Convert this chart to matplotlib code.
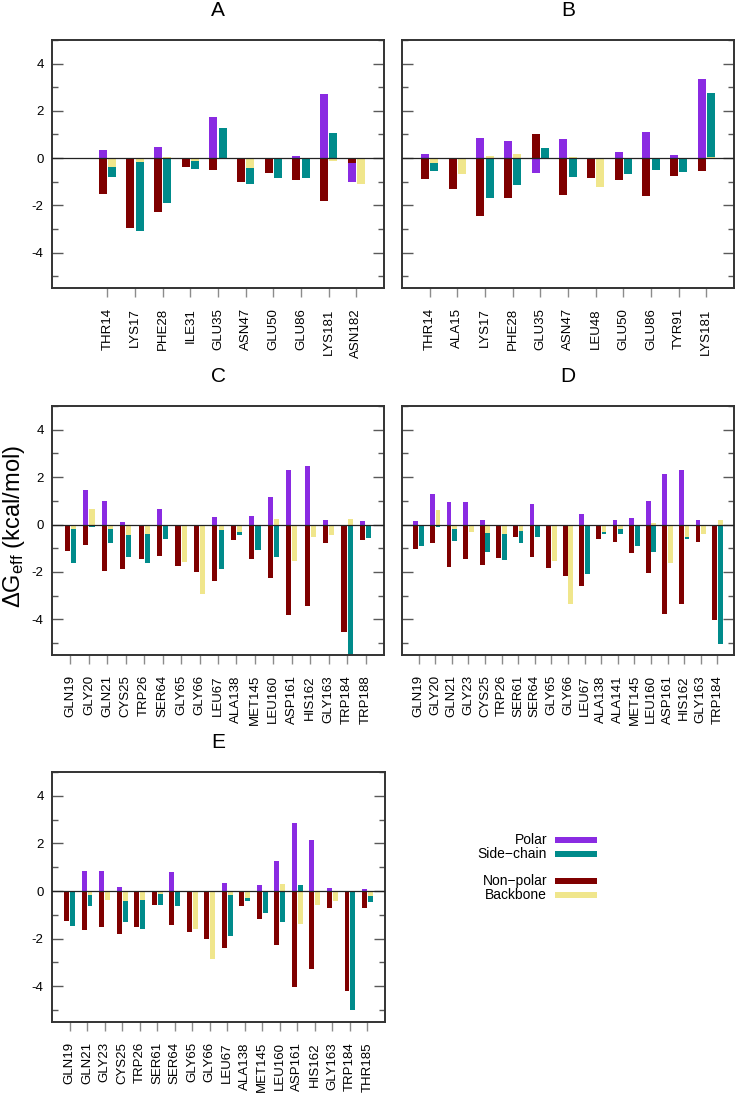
import numpy as np
import matplotlib
matplotlib.use("Agg")
import matplotlib.pyplot as plt
from matplotlib.patches import Rectangle
from matplotlib.ticker import MultipleLocator

plt.rcParams['font.family'] = ['Liberation Sans', 'DejaVu Sans']
plt.rcParams['axes.unicode_minus'] = False
plt.rcParams['mathtext.fontset'] = 'custom'
plt.rcParams['mathtext.rm'] = 'Liberation Sans'
plt.rcParams['mathtext.it'] = 'Liberation Sans:italic'

# ---------------- data ----------------
a_labels = ["THR14", "LYS17", "PHE28", "ILE31", "GLU35", "ASN47", "GLU50", "GLU86", "LYS181", "ASN182"]
a_polar = [0.36, -0.28, 0.45, -0.17, 1.75, -0.48, -0.20, 0.08, 2.72, -1.01]
a_nonpolar = [-1.54, -2.96, -2.30, -0.39, -0.51, -1.02, -0.62, -0.93, -1.80, -0.21]
a_sidechain = [-0.81, -3.07, -1.91, -0.45, 1.26, -1.08, -0.83, -0.86, 1.07, -0.11]
a_backbone = [-0.36, -0.17, 0.05, -0.11, 0.00, -0.42, -0.01, 0.00, -0.14, -1.11]

b_labels = ["THR14", "ALA15", "LYS17", "PHE28", "GLU35", "ASN47", "LEU48", "GLU50", "GLU86", "TYR91", "LYS181"]
b_polar = [0.17, 0.00, 0.83, 0.74, -0.63, 0.79, -0.38, 0.27, 1.12, 0.15, 3.33]
b_nonpolar = [-0.90, -1.31, -2.46, -1.70, 1.01, -1.56, -0.84, -0.93, -1.61, -0.74, -0.55]
b_sidechain = [-0.55, -0.62, -1.68, -1.12, 0.41, -0.79, 0.00, -0.66, -0.49, -0.60, 2.75]
b_backbone = [-0.20, -0.66, 0.07, 0.17, 0.00, 0.04, -1.22, 0.00, 0.00, 0.00, 0.05]

c_labels = ["GLN19", "GLY20", "GLN21", "CYS25", "TRP26", "SER64", "GLY65", "GLY66", "LEU67",
            "ALA138", "MET145", "LEU160", "ASP161", "HIS162", "GLY163", "TRP184", "TRP188"]
c_polar = [-0.72, 1.45, 1.01, 0.10, -0.54, 0.67, -0.12, -0.94, 0.32,
           -0.13, 0.38, 1.16, 2.32, 2.46, 0.20, -0.94, 0.13]
c_nonpolar = [-1.11, -0.87, -1.95, -1.88, -1.45, -1.31, -1.74, -1.99, -2.36,
              -0.65, -1.45, -2.27, -3.83, -3.45, -0.76, -4.52, -0.66]
c_sidechain = [-1.63, -0.11, -0.79, -1.36, -1.60, -0.60, -0.30, -0.02, -1.88,
               -0.46, -1.08, -1.35, 0.00, -0.47, -0.14, -5.70, -0.58]
c_backbone = [-0.20, 0.66, -0.18, -0.46, -0.39, -0.05, -1.56, -2.91, -0.22,
              -0.32, 0.00, 0.22, -1.53, -0.52, -0.42, 0.24, 0.00]

d_labels = ["GLN19", "GLY20", "GLN21", "GLY23", "CYS25", "TRP26", "SER61", "SER64", "GLY65", "GLY66",
            "LEU67", "ALA138", "ALA141", "MET145", "LEU160", "ASP161", "HIS162", "GLY163", "TRP184"]
d_polar = [0.14, 1.31, 0.97, 0.94, 0.18, -0.45, -0.48, 0.87, -0.05, -1.19,
           0.45, -0.10, 0.20, 0.27, 1.00, 2.12, 2.29, 0.18, -0.80]
d_nonpolar = [-1.05, -0.79, -1.80, -1.46, -1.70, -1.43, -0.53, -1.38, -1.82, -2.16,
              -2.61, -0.60, -0.74, -1.21, -2.06, -3.79, -3.33, -0.74, -4.04]
d_sidechain = [-0.90, -0.11, -0.69, -0.21, -1.16, -1.49, -0.76, -0.51, -0.35, -0.02,
               -2.08, -0.39, -0.38, -0.91, -1.14, -0.04, -0.59, -0.15, -5.02]
d_backbone = [0.00, 0.62, -0.18, -0.31, -0.35, -0.39, -0.25, 0.00, -1.52, -3.33,
              -0.08, -0.31, -0.18, -0.03, 0.07, -1.63, -0.51, -0.41, 0.18]

e_labels = ["GLN19", "GLN21", "GLY23", "CYS25", "TRP26", "SER61", "SER64", "GLY65", "GLY66",
            "LEU67", "ALA138", "MET145", "LEU160", "ASP161", "HIS162", "GLY163", "TRP184", "THR185"]
e_polar = [-0.25, 0.84, 0.86, 0.15, -0.49, -0.14, 0.80, -0.16, -0.86,
           0.34, -0.11, 0.27, 1.25, 2.85, 2.15, 0.14, -0.83, 0.07]
e_nonpolar = [-1.26, -1.63, -1.50, -1.82, -1.49, -0.59, -1.43, -1.74, -2.01,
              -2.40, -0.62, -1.19, -2.25, -4.01, -3.28, -0.73, -4.20, -0.72]
e_sidechain = [-1.46, -0.63, -0.26, -1.28, -1.59, -0.59, -0.63, -0.30, -0.02,
               -1.89, -0.42, -0.91, -1.29, 0.24, -0.55, -0.17, -4.98, -0.45]
e_backbone = [-0.05, -0.17, -0.38, -0.42, -0.39, -0.14, 0.00, -1.60, -2.85,
              -0.17, -0.31, 0.00, 0.31, -1.38, -0.58, -0.42, -0.05, -0.21]

# ---------------- style ----------------
C_POLAR = '#8a2be2'
C_NONPOLAR = '#7f0000'
C_SIDE = '#008b8b'
C_BACK = '#f0e68c'

W, H = 736, 1093
fig = plt.figure(figsize=(W / 100, H / 100), dpi=100)


def box(l, t, r, b):
    return [l / W, 1 - b / H, (r - l) / W, (b - t) / H]


panels = [
    ("A", a_labels, a_polar, a_nonpolar, a_sidechain, a_backbone, (52, 40, 384, 288), (-2, 10), True),
    ("B", b_labels, b_polar, b_nonpolar, b_sidechain, b_backbone, (402, 40, 734, 288), (-1, 11), False),
    ("C", c_labels, c_polar, c_nonpolar, c_sidechain, c_backbone, (52, 406, 384, 655), (-1, 17), True),
    ("D", d_labels, d_polar, d_nonpolar, d_sidechain, d_backbone, (402, 406, 734, 655), (-1, 19), False),
    ("E", e_labels, e_polar, e_nonpolar, e_sidechain, e_backbone, (52, 772, 385, 1022), (-1, 18), True),
]

bw = 0.28
off = 0.17
for title, labels, pol, npol, sc, bb, bx, xl, showy in panels:
    ax = fig.add_axes(box(*bx))
    x = np.arange(len(labels))
    ax.bar(x - off, pol, bw, color=C_POLAR, linewidth=0, zorder=2)
    ax.bar(x - off, npol, bw, color=C_NONPOLAR, linewidth=0, zorder=2)
    ax.bar(x + off, sc, bw, color=C_SIDE, linewidth=0, zorder=2)
    ax.bar(x + off, bb, bw, color=C_BACK, linewidth=0, zorder=2)
    ax.axhline(0, color='#222222', lw=0.9, zorder=3)
    ax.set_xlim(*xl)
    ax.set_ylim(-5.5, 5)
    ax.yaxis.set_major_locator(MultipleLocator(2))
    ax.yaxis.set_minor_locator(MultipleLocator(1))
    ax.tick_params(axis='y', which='major', direction='in', length=8, width=1,
                   left=True, right=True, color='0.35', labelsize=9.5, pad=6,
                   labelleft=showy)
    ax.tick_params(axis='y', which='minor', direction='in', length=4.5, width=1,
                   left=True, right=True, color='0.35')
    ax.set_xticks(x)
    ax.set_xticklabels(labels, rotation=90)
    ax.tick_params(axis='x', direction='out', length=6.5, width=1, color='0.55',
                   labelsize=9.5, pad=8, top=False)
    for s in ax.spines.values():
        s.set_linewidth(1.4)
        s.set_color('0.2')
    cx = (bx[0] + bx[2]) / 2
    fig.text(cx / W, 1 - (bx[1] - 29) / H, title, ha='center', va='center', fontsize=15)

fig.text(14 / W, 1 - 527 / H, r'ΔG$_{\mathrm{eff}}$ (kcal/mol)', rotation=90,
         ha='center', va='center', fontsize=17)

# legend
leg_items = [("Polar", C_POLAR, 840), ("Side\u2212chain", C_SIDE, 853.5),
             ("Non\u2212polar", C_NONPOLAR, 881), ("Backbone", C_BACK, 895)]
for name, col, yc in leg_items:
    fig.text(547 / W, 1 - yc / H, name, ha='right', va='center', fontsize=10)
    fig.add_artist(Rectangle((555 / W, 1 - (yc + 3) / H), 42 / W, 6 / H,
                             transform=fig.transFigure, color=col, linewidth=0))

fig.savefig("out.png", dpi=100)
